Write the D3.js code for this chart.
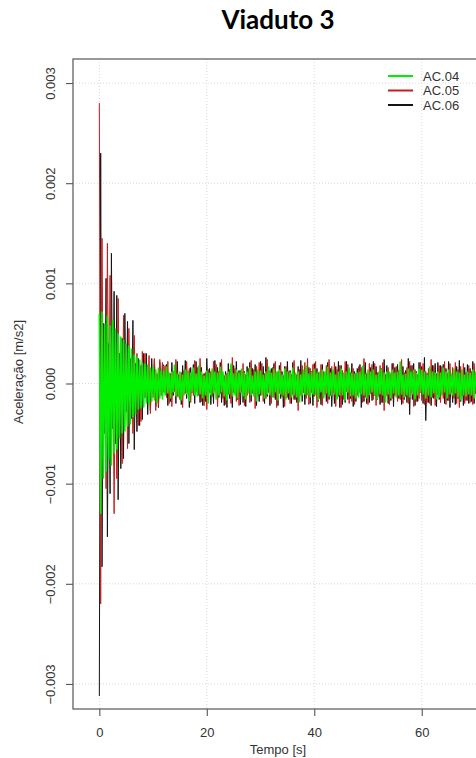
<!DOCTYPE html>
<html><head><meta charset="utf-8">
<script src="https://cdn.jsdelivr.net/npm/d3@7"></script>
<style>body{margin:0;background:#fff;} svg{display:block;}</style>
</head><body>
<svg id="c" width="476" height="758"></svg>
<script>
const title = "Viaduto 3";
const xTitle = "Tempo [s]";
const yTitle = "Aceleração [m/s2]";
const seriesNames = ["AC.04", "AC.05", "AC.06"];
const seriesColors = ["#00f000", "#cc1a1a", "#151515"];
const xTicks = [0, 20, 40, 60];
const yTicks = [-0.003, -0.002, -0.001, 0, 0.001, 0.002, 0.003];
const sampleStep = 0.25;   // s between samples
const valueUnit = 1e-5;    // stored values are in 1e-5 m/s2

// AC.04 (green)
const ac04 = [
70,-130,72,-95,60,-88,68,-76,58,-82,64,-70,
55,-66,50,-55,47,-50,44,-48,40,-43,38,-41,
35,-34,29,-31,27,-26,24,-25,21,-24,20,-20,
19,-21,16,-18,17,-17,14,-19,16,-15,13,-16,
13,-12,17,-10,11,-15,12,-9,19,-13,10,-14,
12,-17,9,-12,14,-11,13,-18,11,-9,16,-12,
10,-13,18,-11,12,-15,8,-12,13,-20,11,-12,
15,-10,12,-16,11,-12,17,-9,12,-13,9,-17,
12,-11,20,-13,10,-12,14,-15,11,-9,15,-13,
11,-16,12,-10,16,-12,8,-13,12,-18,14,-11,
13,-12,9,-15,12,-11,17,-12,11,-14,15,-9,
12,-17,14,-11,9,-12,15,-16,12,-10,11,-14,
16,-12,11,-14,12,-19,9,-12,14,-11,18,-12,
10,-14,12,-11,15,-12,11,-17,12,-9,14,-15,
12,-10,17,-13,11,-12,14,-11,9,-16,12,-12,
15,-12,11,-17,12,-9,16,-13,11,-12,10,-15,
11,-14,12,-11,18,-12,10,-15,14,-12,12,-9,
14,-12,9,-16,12,-11,15,-12,11,-19,12,-11,
12,-15,14,-10,11,-14,12,-12,22,-11,9,-14,
10,-12,15,-14,12,-11,14,-16,11,-12,15,-9,
14,-11,12,-15,9,-12,17,-14,12,-10,11,-16,
12,-14,11,-12,16,-9,12,-15,14,-11,10,-12,
15,-10,12,-14,11,-17,14,-12,9,-13,12,-11,
11,-12,14,-15,12,-9,15,-12,11,-14,12,-12
];
// AC.05 (red)
const ac05 = [
280,-220,145,-60,50,-105,140,-40,108,-70,45,-130,
40,-95,85,-30,35,-80,68,-25,30,-65,55,-20,
20,-50,48,-18,30,-42,15,-38,32,-12,30,-15,
-10,28,-30,12,-14,25,-27,10,-22,24,-12,21,
-9,18,-14,22,-20,10,-23,12,-8,24,-13,9,
-16,11,-24,13,-10,22,-9,15,-19,7,-12,23,
-8,16,-12,25,-18,9,-22,11,-26,14,-9,12,
-13,22,-7,19,-23,12,-10,24,-15,8,-21,10,
-11,14,-20,26,-9,15,-18,11,-22,13,-8,20,
-22,9,-12,15,-19,23,-10,14,-25,17,-11,21,
-12,20,-18,10,-15,24,-9,13,-20,16,-14,22,
-24,12,-10,21,-13,8,-23,17,-14,12,-20,9,
-11,23,-16,9,-27,14,-12,18,-9,21,-15,25,
-21,15,-9,19,-13,22,-24,11,-15,19,-22,12,
-10,18,-20,24,-12,17,-9,21,-23,14,-13,18,
-24,13,-16,22,-8,19,-20,11,-18,15,-21,10,
-12,17,-9,16,-19,25,-14,10,-21,20,-10,19,
-16,20,-22,11,-13,18,-19,21,-27,9,-12,16,
-21,10,-15,20,-12,17,-18,13,-16,24,-20,11,
-13,16,-20,22,-9,18,-23,14,-18,9,-15,21,
-17,20,-21,12,-19,15,-20,24,-14,18,-22,10,
-11,18,-19,17,-15,22,-21,10,-17,20,-9,16,
-15,21,-20,14,-24,17,-12,20,-20,11,-17,18,
-19,12,-21,20,-10,18,-18,22,-13,17,-20,14
];
// AC.06 (black)
const ac06 = [
-312,230,-183,60,-50,105,-153,40,-110,130,-45,92,
-60,88,-116,30,-85,45,-75,70,-28,62,-60,25,
-35,63,-66,20,-48,25,-42,18,-36,30,-14,30,
-31,12,-27,25,-10,24,-23,9,-24,21,-8,20,
17,-8,19,-22,9,-18,21,-12,10,-20,22,-9,
8,-21,18,-10,23,-15,12,-24,16,-9,19,-20,
22,-12,9,-19,16,-22,10,-18,25,-8,15,-21,
11,-20,23,-9,16,-14,21,-19,8,-22,12,-24,
20,-15,10,-24,18,-9,22,-16,13,-21,9,-19,
12,-23,17,-8,21,-18,15,-11,19,-22,10,-18,
22,-10,17,-20,26,-13,9,-22,15,-11,20,-16,
9,-22,18,-15,12,-24,17,-10,22,-16,13,-20,
21,-16,10,-19,17,-12,23,-18,9,-21,15,-11,
16,-20,12,-22,20,-9,15,-18,11,-21,19,-13,
10,-18,21,-16,15,-23,11,-20,17,-9,22,-24,
18,-21,9,-19,22,-16,13,-15,20,-23,12,-18,
15,-10,19,-24,11,-18,21,-20,9,-19,16,-17,
22,-12,17,-16,10,-21,15,-19,24,-13,18,-20,
9,-17,20,-23,16,-11,19,-15,12,-21,17,-16,
13,-19,25,-31,18,-16,20,-22,12,-18,21,-9,
17,-20,26,-37,10,-19,16,-22,18,-15,20,-23,
21,-16,18,-11,19,-20,15,-17,22,-24,9,-19,
12,-21,17,-15,23,-18,10,-22,16,-17,19,-20,
15,-18,22,-20,11,-23,18,-16,21,-10,17,-15
];
const seriesValues = [ac04, ac05, ac06];

const svg = d3.select("#c");
const W = 476, H = 758;
const box = {left: 73, top: 59, right: 483, bottom: 709};
const x = d3.scaleLinear().domain([-4.9, 71.4]).range([box.left, box.right]);
const y = d3.scaleLinear().domain([-0.00325, 0.00324]).range([box.bottom, box.top]);
const font = "'Liberation Sans', Arial, Helvetica, sans-serif";
const axisColor = "#555";

svg.append("rect").attr("width", W).attr("height", H).attr("fill", "#fff");

svg.append("defs").append("clipPath").attr("id", "clip")
  .append("rect").attr("x", box.left).attr("y", box.top)
  .attr("width", box.right - box.left).attr("height", box.bottom - box.top);

// grid
const grid = svg.append("g").attr("clip-path", "url(#clip)");
grid.selectAll("line.gx").data(xTicks).join("line")
  .attr("x1", d => x(d)).attr("x2", d => x(d))
  .attr("y1", box.top).attr("y2", box.bottom)
  .attr("stroke", "#d8d8d8").attr("stroke-dasharray", "1,2");
grid.selectAll("line.gy").data(yTicks).join("line")
  .attr("x1", box.left).attr("x2", box.right)
  .attr("y1", d => y(d)).attr("y2", d => y(d))
  .attr("stroke", "#d8d8d8").attr("stroke-dasharray", "1,2");

// series (draw AC.06, AC.05, then AC.04 on top)
const line = d3.line().x((d, i) => x(i * sampleStep)).y(d => y(d * valueUnit));
const plot = svg.append("g").attr("clip-path", "url(#clip)");
const widths = [1.6, 1, 1];
[2, 1, 0].forEach(k => {
  plot.append("path").datum(seriesValues[k])
    .attr("d", line).attr("fill", "none")
    .attr("stroke", seriesColors[k]).attr("stroke-width", widths[k])
    .attr("stroke-linejoin", "miter");
});

// box
svg.append("rect").attr("x", box.left).attr("y", box.top)
  .attr("width", box.right - box.left).attr("height", box.bottom - box.top)
  .attr("fill", "none").attr("stroke", axisColor).attr("stroke-width", 1.2);

// axes
const fmt = d3.format(".3f");
const xAxis = svg.append("g").attr("transform", `translate(0,${box.bottom})`)
  .call(d3.axisBottom(x).tickValues(xTicks).tickSize(7).tickPadding(12).tickFormat(d3.format("d")));
const yAxis = svg.append("g").attr("transform", `translate(${box.left},0)`)
  .call(d3.axisLeft(y).tickValues(yTicks).tickSize(7).tickFormat(fmt));
[xAxis, yAxis].forEach(g => {
  g.select(".domain").remove();
  g.selectAll(".tick line").attr("stroke", axisColor).attr("stroke-width", 1.1);
  g.selectAll("text").attr("font-family", font).attr("font-size", 13).attr("fill", "#333");
});
yAxis.selectAll(".tick text")
  .attr("x", null).attr("dy", null)
  .attr("text-anchor", "middle")
  .attr("transform", "translate(-18,0) rotate(-90)");

// titles
svg.append("text").attr("x", 278).attr("y", 29).attr("text-anchor", "middle")
  .attr("font-family", "Lato, 'Open Sans', sans-serif").attr("font-weight", 700)
  .attr("font-size", 26).attr("fill", "#000").text(title);
svg.append("text").attr("x", (box.left + box.right) / 2).attr("y", 754).attr("text-anchor", "middle")
  .attr("font-family", font).attr("font-size", 13).attr("fill", "#333").text(xTitle);
svg.append("text").attr("transform", "translate(23,372) rotate(-90)")
  .attr("text-anchor", "middle")
  .attr("font-family", font).attr("font-size", 13).attr("fill", "#333").text(yTitle);

// legend
const legend = svg.append("g");
seriesNames.forEach((name, i) => {
  const ly = 76 + i * 14.5;
  legend.append("line").attr("x1", 388).attr("x2", 413).attr("y1", ly).attr("y2", ly)
    .attr("stroke", seriesColors[i]).attr("stroke-width", 2);
  legend.append("text").attr("x", 423).attr("y", ly + 4.5)
    .attr("font-family", font).attr("font-size", 13).attr("fill", "#333").text(name);
});
</script>
</body></html>
